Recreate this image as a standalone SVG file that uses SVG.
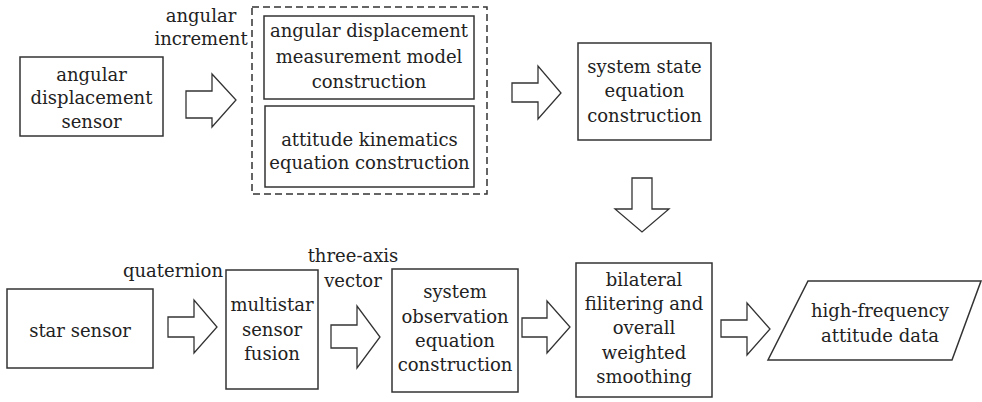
<svg xmlns="http://www.w3.org/2000/svg" width="982" height="402" viewBox="0 0 982 402">
<style>
.b{fill:#fff;stroke:#333;stroke-width:1.5}
.d{fill:none;stroke:#333;stroke-width:1.5;stroke-dasharray:7,4}
.a{fill:#fff;stroke:#333;stroke-width:1.3;stroke-linejoin:miter}
text{font-family:"DejaVu Serif","Liberation Serif",serif;font-size:18px;fill:#222;text-anchor:middle}
</style>
<rect width="982" height="402" fill="#fff"/>
<g id="connectors">
<polygon class="a" points="186,91 212,91 212,74 236,100 212,127 212,118 186,118"/>
<polygon class="a" points="512,83 538,83 538,66 561,93 538,119 538,102 512,102"/>
<polygon class="a" points="632,178 652,178 652,209 669,209 642,232 615,209 632,209"/>
<polygon class="a" points="168,317 194,317 194,300 217,327 194,353 194,337 168,337"/>
<polygon class="a" points="331,325 357,325 357,306 380,337 357,368 357,348 331,348"/>
<polygon class="a" points="522,318 547,318 547,301 570,327 547,353 547,337 522,337"/>
<polygon class="a" points="721,320 747,320 747,303 770,329 747,355 747,337 721,337"/>
</g>
<g id="n1"><rect class="b" x="20" y="57" width="143" height="79"/>
<text x="91.5" y="81">angular</text><text x="91.5" y="104">displacement</text><text x="91.5" y="128">sensor</text></g>
<text x="201" y="22">angular</text>
<text x="201" y="45">increment</text>
<g id="group1"><rect class="d" x="252" y="7" width="235" height="187"/></g>
<g id="n2"><rect class="b" x="264" y="16" width="210" height="83"/>
<text x="369" y="37">angular displacement</text><text x="369" y="63">measurement model</text><text x="369" y="88">construction</text></g>
<g id="n3"><rect class="b" x="265" y="106" width="209" height="81"/>
<text x="369.5" y="146">attitude kinematics</text><text x="369.5" y="169">equation construction</text></g>
<g id="n4"><rect class="b" x="578" y="43" width="133" height="97"/>
<text x="644.5" y="73">system state</text><text x="644.5" y="97">equation</text><text x="644.5" y="122">construction</text></g>
<g id="n5"><rect class="b" x="7" y="289" width="146" height="79"/>
<text x="80" y="337">star sensor</text></g>
<text x="173" y="277">quaternion</text>
<g id="n6"><rect class="b" x="226" y="270" width="92" height="119"/>
<text x="272" y="311">multistar</text><text x="272" y="336">sensor</text><text x="272" y="360">fusion</text></g>
<text x="353" y="262">three-axis</text>
<text x="353" y="287">vector</text>
<g id="n7"><rect class="b" x="392" y="269" width="126" height="123"/>
<text x="455" y="298">system</text><text x="455" y="323">observation</text><text x="455" y="347">equation</text><text x="455" y="371">construction</text></g>
<g id="n8"><rect class="b" x="576" y="263" width="136" height="134"/>
<text x="644" y="286">bilateral</text><text x="644" y="310">filitering and</text><text x="644" y="334">overall</text><text x="644" y="359">weighted</text><text x="644" y="383">smoothing</text></g>
<g id="n9"><polygon class="b" points="808,281 981,281 952,360 768,360"/>
<text x="880" y="317">high-frequency</text><text x="880" y="342">attitude data</text></g>
</svg>
